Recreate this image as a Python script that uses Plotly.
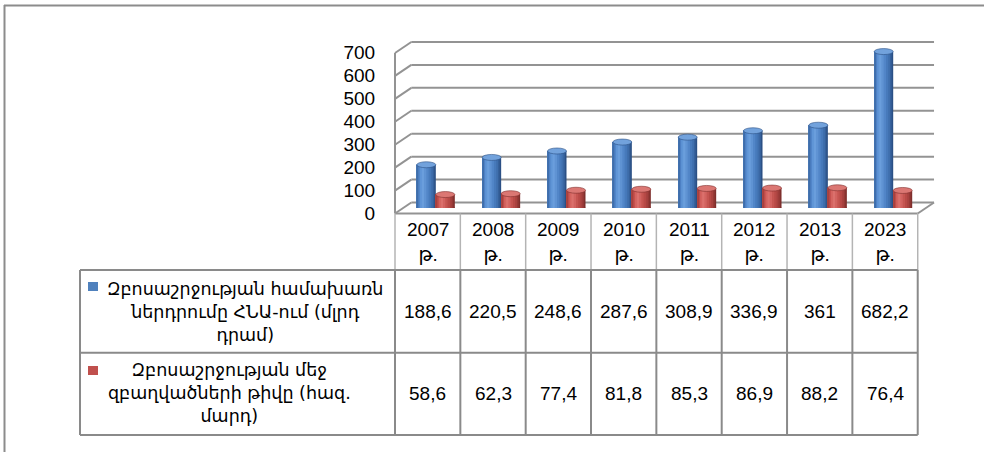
import plotly.graph_objects as go

years = ["2007 թ.", "2008 թ.", "2009 թ.", "2010 թ.", "2011 թ.", "2012 թ.", "2013 թ.", "2023 թ."]
gdp_share = [188.6, 220.5, 248.6, 287.6, 308.9, 336.9, 361, 682.2]
employed = [58.6, 62.3, 77.4, 81.8, 85.3, 86.9, 88.2, 76.4]
series_names = [
    "Զբոսաշրջության համախառն<br>ներդրումը ՀՆԱ-ում (մլրդ<br>դրամ)",
    "Զբոսաշրջության մեջ<br>զբաղվածների թիվը (հազ.<br>մարդ)",
]
y_ticks = [0, 100, 200, 300, 400, 500, 600, 700]

W, H = 984, 452
FONT = "Liberation Sans, Arial, DejaVu Sans, sans-serif"

# geometry of the fake 3d box (pixels)
front_x, col_w, n = 395, 65.34, len(years)
dx, dy = 16.3, 11.0
front_y0, px_per_unit = 213.5, 0.2293
mid_x, mid_y0 = front_x + dx / 2, front_y0 - dy / 2
right_x = front_x + n * col_w


def fx(p):
    return p / W


def fy(p):
    return 1 - p / H


cyl_w = 19 / col_w  # cylinder width in category units

blue_stripes = [("#3f6eab", .08), ("#5084c8", .08), ("#5f95d6", .1), ("#6a9edc", .12), ("#5f93d3", .12),
                ("#5286c8", .12), ("#477abb", .12), ("#3f6fad", .1), ("#36619b", .08), ("#2b5085", .08)]
red_stripes = [("#a8413e", .08), ("#c4504d", .08), ("#d4635f", .1), ("#db706c", .12), ("#d26360", .12),
               ("#c55551", .12), ("#b84a47", .12), ("#a8423f", .1), ("#963936", .08), ("#7f2f2d", .08)]

fig = go.Figure()
shapes = []

for vals, stripes, start, cap, base in [(gdp_share, blue_stripes, -cyl_w, "#72a2dc", "#2b5085"),
                                         (employed, red_stripes, 0, "#db7773", "#7f2f2d")]:
    # stack narrower left-aligned bars on top of each other -> no seams between stripes
    cum = [sum(f for _, f in stripes[:k + 1]) for k in range(len(stripes))]
    for k in range(len(stripes) - 1, -1, -1):
        fig.add_trace(go.Bar(x=years, y=vals, offset=start, width=cyl_w * cum[k],
                             marker=dict(color=stripes[k][0], line_width=0), hoverinfo="skip"))
    for i, v in enumerate(vals):
        c = i + start + cyl_w / 2
        shapes.append(dict(type="circle", xref="x", yref="y", xsizemode="pixel", ysizemode="pixel",
                           xanchor=c, yanchor=0, x0=-9.5, x1=9.5, y0=-3, y1=3,
                           fillcolor=base, line_width=0, layer="below"))
        shapes.append(dict(type="circle", xref="x", yref="y", xsizemode="pixel", ysizemode="pixel",
                           xanchor=c, yanchor=v, x0=-9.5, x1=9.5, y0=-3, y1=3,
                           fillcolor=cap, line=dict(color=base, width=0.6)))

grid = dict(color="#939393", width=2)
walls = []
for v in y_ticks:
    yf = front_y0 - v * px_per_unit
    yb = yf - dy
    walls.append(dict(type="line", xref="paper", yref="paper", x0=fx(front_x + dx), x1=fx(right_x + dx),
                      y0=fy(yb), y1=fy(yb), line=grid, layer="below"))
    walls.append(dict(type="line", xref="paper", yref="paper", x0=fx(front_x), x1=fx(front_x + dx),
                      y0=fy(yf), y1=fy(yb), line=grid, layer="below"))
top_front = front_y0 - 700 * px_per_unit
walls.append(dict(type="line", xref="paper", yref="paper", x0=fx(front_x), x1=fx(front_x),
                  y0=fy(front_y0), y1=fy(top_front), line=grid, layer="below"))
walls.append(dict(type="line", xref="paper", yref="paper", x0=fx(front_x), x1=fx(right_x),
                  y0=fy(front_y0), y1=fy(front_y0), line=grid, layer="below"))
walls.append(dict(type="line", xref="paper", yref="paper", x0=fx(right_x), x1=fx(right_x + dx),
                  y0=fy(front_y0), y1=fy(front_y0 - dy), line=grid, layer="below"))
shapes = walls + shapes

# data table
light = dict(color="#b4b4b4", width=1.5)
dark = dict(color="#8a8a8a", width=2)
head_top, head_bot, r1_bot, r2_bot, left_x = front_y0, 270, 352.7, 435, 80


def line(x0, y0, x1, y1, ln):
    return dict(type="line", xref="paper", yref="paper", x0=fx(x0), y0=fy(y0), x1=fx(x1), y1=fy(y1), line=ln)


for k in range(n + 1):
    xk = front_x + k * col_w
    shapes.append(line(xk, head_top, xk, head_bot, light))
    shapes.append(line(xk, head_bot, xk, r2_bot, dark))
shapes.append(line(left_x, head_bot, left_x, r2_bot, dark))
for yy in (head_bot, r1_bot, r2_bot):
    shapes.append(line(left_x, yy, right_x, yy, dark))

# legend keys
shapes.append(dict(type="rect", xref="paper", yref="paper", x0=fx(88), x1=fx(98), y0=fy(282), y1=fy(291),
                   fillcolor="#4f81bd", line_width=0))
shapes.append(dict(type="rect", xref="paper", yref="paper", x0=fx(88), x1=fx(98), y0=fy(366), y1=fy(375),
                   fillcolor="#c0504d", line_width=0))

# outer frame
shapes.append(line(4, 5.5, W, 5.5, dict(color="#8c8c8c", width=2)))
shapes.append(line(4.5, 5, 4.5, H, dict(color="#8c8c8c", width=2)))

ann = []
for k, yr in enumerate(years):
    cx = fx(front_x + (k + 0.5) * col_w)
    ann.append(dict(x=cx, y=fy(242), text=yr.replace(" ", "<br>")))
    ann.append(dict(x=cx, y=fy((head_bot + r1_bot) / 2), text=f"{gdp_share[k]:g}".replace(".", ",")))
    ann.append(dict(x=cx, y=fy((r1_bot + r2_bot) / 2), text=f"{employed[k]:g}".replace(".", ",")))
for a in ann:
    a["font"] = dict(family=FONT, size=19, color="black")
leg_font = dict(family="DejaVu Sans, sans-serif", size=17.5, color="black")
ann.append(dict(x=fx(245), y=fy(312), text=series_names[0], font=leg_font))
ann.append(dict(x=fx(229), y=fy(393), text=series_names[1], font=leg_font))
for a in ann:
    a.update(xref="paper", yref="paper", showarrow=False, xanchor="center", yanchor="middle",
             align="center")

fig.update_layout(
    width=W, height=H,
    margin=dict(l=0, r=0, t=0, b=0, autoexpand=False),
    paper_bgcolor="white", plot_bgcolor="rgba(0,0,0,0)",
    barmode="overlay", showlegend=False,
    shapes=shapes, annotations=ann,
    xaxis=dict(type="category", range=[-0.5, n - 0.5], domain=[fx(mid_x), fx(mid_x + n * col_w)],
               showticklabels=False, showgrid=False, zeroline=False, showline=False, automargin=False),
    yaxis=dict(range=[0, 700], domain=[fy(mid_y0), fy(mid_y0 - 700 * px_per_unit)],
               tickvals=y_ticks, showgrid=False, zeroline=False, showline=False, automargin=False,
               tickfont=dict(family=FONT, size=19, color="black"),
               ticklabelshift=5, ticklabelstandoff=27),
)

fig.write_html("out.html", config={"displayModeBar": False},
               post_script="document.body.style.margin='0';")
